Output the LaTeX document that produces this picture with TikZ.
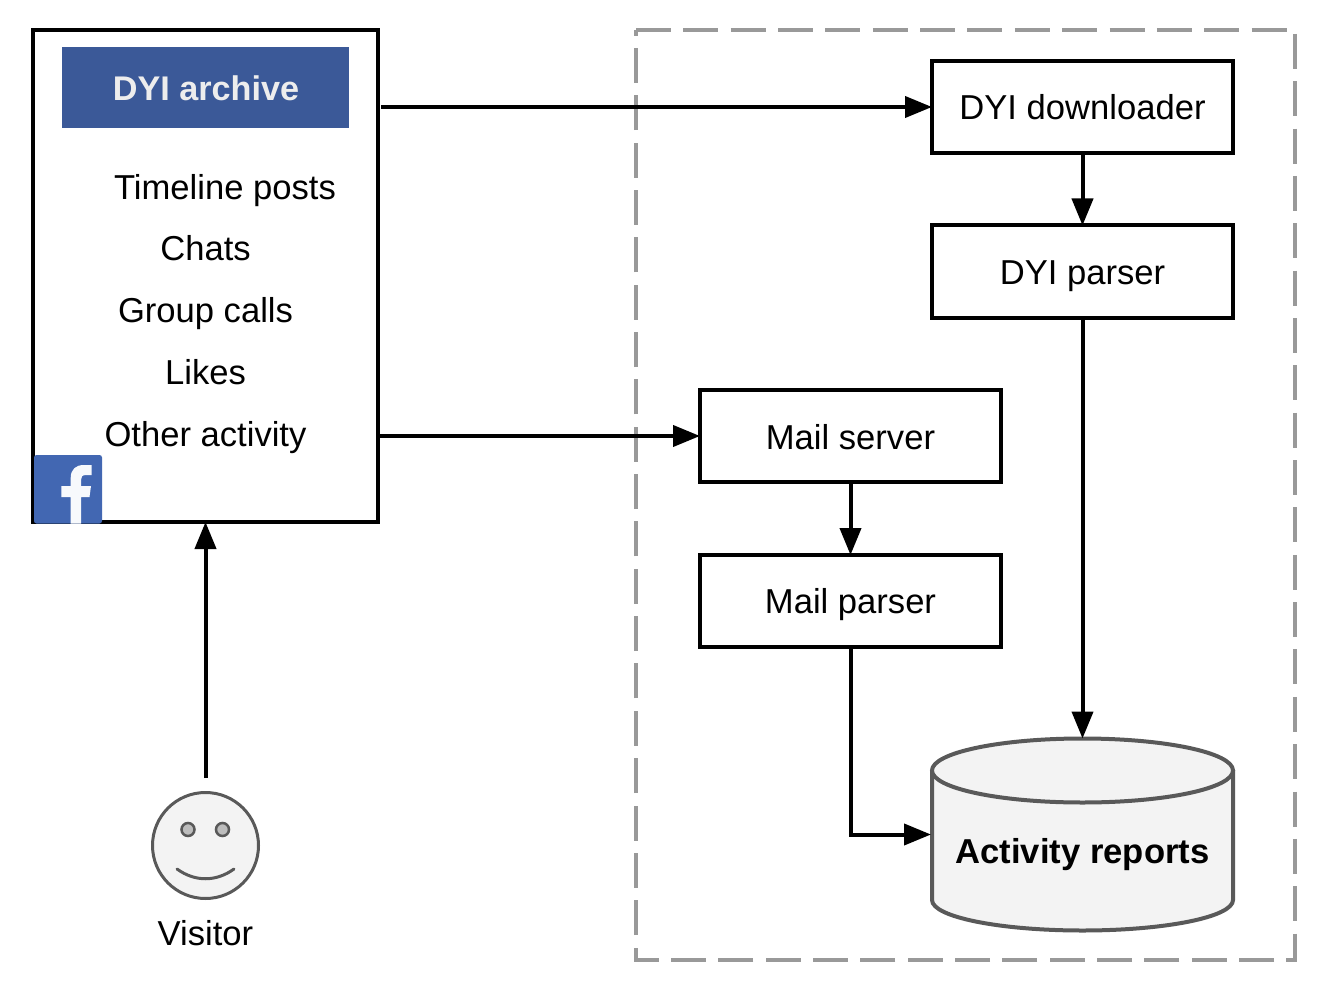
\documentclass[tikz,border=0pt]{standalone}
\usepackage{fontspec}
\setmainfont{Liberation Sans}
\usetikzlibrary{arrows.meta}
\definecolor{fbtitle}{HTML}{3B5998}
\definecolor{fblogo}{HTML}{4267B2}
\definecolor{edgegray}{HTML}{595959}
\definecolor{fillgray}{HTML}{F3F3F3}
\definecolor{dashgray}{HTML}{999999}
\definecolor{eyegray}{HTML}{BDBDBD}
\tikzset{
  x=1pt,y=-1pt,
  boxnode/.style={draw=black,line width=4pt,minimum width=301pt,minimum height=92pt,inner sep=0pt,outer sep=0pt},
  label/.style={font=\fontsize{34.6}{40}\selectfont,anchor=base,inner sep=0pt,outer sep=0pt,text=black},
  conn/.style={draw=black,line width=4pt,-{Triangle[length=27pt,width=21pt]}},
  shapeline/.style={draw=edgegray,line width=4pt,fill=fillgray},
}
\begin{document}
\begin{tikzpicture}
\useasboundingbox (0,0) rectangle (1322,992);
% dashed region
\node[inner sep=0pt,outer sep=0pt,minimum width=659pt,minimum height=930pt] (region) at (965.5,495) {};
\draw[dashgray,line width=4pt,dash pattern=on 35pt off 12.35pt] (region.north west) -- (region.north east) -- (region.south east) -- (region.south west) -- cycle;
% archive
\node[draw=black,line width=4pt,inner sep=0pt,outer sep=0pt,minimum width=345pt,minimum height=492pt] (archive) at (205.5,276) {};
\node[fill=fbtitle,inner sep=0pt,outer sep=0pt,minimum width=286.5pt,minimum height=81.5pt] (title) at (205.7,87.7) {};
\node[label,font=\fontsize{34.2}{40}\selectfont\bfseries,text=white!93!black] (titletext) at (206,100.5) {DYI archive};
\node[label] (t1) at (225,200) {Timeline posts};
\node[label] (t2) at (205.5,261) {Chats};
\node[label] (t3) at (205.5,323) {Group calls};
\node[label] (t4) at (205.5,384) {Likes};
\node[label] (t5) at (205.5,446) {Other activity};
% facebook logo
\fill[fblogo,rounded corners=2.5pt] (34,455) rectangle (102,523.5);
\fill[white!96!fblogo] (70.7,523.5) -- (70.7,497) -- (61.3,497) -- (61.3,486) -- (70.7,486) -- (70.7,478)
  .. controls (70.7,469) and (76,465) .. (84,465) -- (91.7,465) -- (91.7,475) -- (86,475)
  .. controls (82,475) and (81,477) .. (81,480) -- (81,486) -- (91,486) -- (89.5,497) -- (81,497) -- (81,523.5) -- cycle;
% process boxes
\node[boxnode] (down) at (1082.5,107) {};
\node[label] (downt) at (1082.5,120) {DYI downloader};
\node[boxnode] (dparse) at (1082.5,271.5) {};
\node[label] (dparset) at (1082.5,284) {DYI parser};
\node[boxnode] (mail) at (850.5,436) {};
\node[label] (mailt) at (850.5,449) {Mail server};
\node[boxnode] (mparse) at (850.5,601) {};
\node[label] (mparset) at (850.5,613) {Mail parser};
% database
\path[shapeline] (932,770) -- (932,900) .. controls (932,917) and (1000,930.5) .. (1082.5,930.5) .. controls (1165,930.5) and (1233,917) .. (1233,900) -- (1233,770);
\path[shapeline] (1082.5,770.5) ellipse [x radius=150.5pt,y radius=32pt];
\node[inner sep=0pt,outer sep=0pt,minimum width=303pt,minimum height=192pt] (db) at (1082.5,834.5) {};
\node[label,font=\fontsize{34.6}{40}\selectfont\bfseries] (dbt) at (1082.5,863) {Activity reports};
% visitor
\node[circle,shapeline,inner sep=0pt,outer sep=0pt,minimum size=106pt,line width=3pt] (face) at (205.5,845.5) {};
\node[circle,draw=edgegray,line width=2.5pt,fill=eyegray,inner sep=0pt,minimum size=13pt] (eye1) at (188,829.5) {};
\node[circle,draw=edgegray,line width=2.5pt,fill=eyegray,inner sep=0pt,minimum size=13pt] (eye2) at (222.5,829.5) {};
\draw[edgegray,line width=3pt,line cap=round] (177,869) .. controls (195,882) and (216,882) .. (234,869);
\node[label] (vis) at (205.5,945) {Visitor};
\coordinate (vtop) at (205.5,778);
\coordinate (a1) at (381,107);
% connectors
\draw[conn] (a1) -- (down.west);
\draw[conn] (down.south) -- (dparse.north);
\draw[conn] (dparse.south) -- (db.north);
\draw[conn] (archive.east |- mail.west) -- (mail.west);
\draw[conn] (mail.south) -- (mparse.north);
\draw[conn] (mparse.south) |- (db.west);
\draw[conn] (vtop) -- (archive.south);
\end{tikzpicture}
\end{document}
